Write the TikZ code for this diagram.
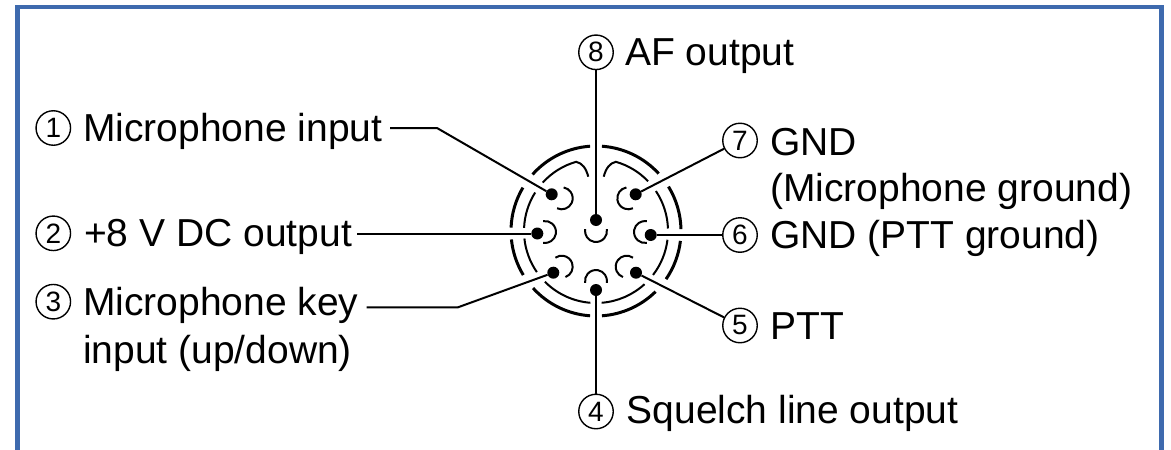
\documentclass[tikz,border=0pt]{standalone}
\usepackage{fontspec}
\setmainfont{Liberation Sans}
\definecolor{frameblue}{RGB}{62,106,174}
\tikzset{
  lbl/.style={font=\fontsize{39}{46}\selectfont, inner sep=0pt, anchor=base west},
  num/.style={circle, draw, line width=1.4pt, minimum size=34.5pt, inner sep=0pt, font=\fontsize{28}{28}\selectfont},
  pindot/.style={circle, fill, inner sep=0pt, minimum size=12pt},
  leader/.style={line width=2pt},
  outerring/.style={line width=3pt},
  innerring/.style={line width=2pt},
  cup/.style={line width=2pt},
}
\begin{document}
\begin{tikzpicture}[x=1pt,y=1pt]
\useasboundingbox (0,0) rectangle (1171,-450);
\fill[white] (0,0) rectangle (1171,-450);
\draw[frameblue, line width=4.5pt, line join=miter] (17.5,-470) -- (17.5,-7.2) -- (1161.3,-7.2) -- (1161.3,-470);

% connector body
\begin{scope}[shift={(596,-231)}]
  \foreach \a/\b in {42.5/86, 94/138.3, 149.3/177.7, 185.7/211.2, 222.2/266, 274/314.5, 325.5/353.3, 361.3/391.5}
    \draw[outerring] (\a:85) arc[start angle=\a, end angle=\b, radius=85];
  \foreach \a/\b in {147.7/177.5, 186/214.8, 224.8/265.5, 274.5/312.4, 322.4/353, 362/393.7}
    \draw[innerring] (\a:72) arc[start angle=\a, end angle=\b, radius=72];
  \draw[innerring] (43.7:72) arc[start angle=43.7, end angle=74, radius=72]
     .. controls (14,68) and (10,63) .. (7.7,54.3);
  \draw[innerring] (-7.7,54.3) .. controls (-10,63) and (-14,68) .. (106:72)
     arc[start angle=106, end angle=137.7, radius=72];
  \coordinate (h8) at (0,0);
  \coordinate (h4) at (0,-50);
  \coordinate (h2) at (-51,-1);
  \coordinate (h6) at (49,-1);
  \coordinate (h1) at (-34.3,32.7);
  \coordinate (h7) at (32.3,32.7);
  \coordinate (h3) at (-34.3,-35.7);
  \coordinate (h5) at (30.7,-35.7);
  \draw[cup] (h8) ++(170:11) arc[start angle=170, end angle=370, radius=11];
  \draw[cup] (h4) ++(-10:11) arc[start angle=-10, end angle=190, radius=11];
  \draw[cup] (h2) ++(-100:11) arc[start angle=-100, end angle=100, radius=11];
  \draw[cup] (h6) ++(80:11) arc[start angle=80, end angle=280, radius=11];
  \draw[cup] (h1) ++(-115:11) arc[start angle=-115, end angle=80, radius=11];
  \draw[cup] (h7) ++(100:11) arc[start angle=100, end angle=295, radius=11];
  \draw[cup] (h3) ++(-70:11) arc[start angle=-70, end angle=125, radius=11];
  \draw[cup] (h5) ++(55:11) arc[start angle=55, end angle=250, radius=11];
\end{scope}

% pin dots
\node[pindot] (d8) at (596,-220) {};
\node[pindot] (d4) at (596,-290) {};
\node[pindot] (d2) at (537.3,-233.5) {};
\node[pindot] (d6) at (650.7,-235) {};
\node[pindot] (d1) at (551.7,-194.3) {};
\node[pindot] (d7) at (635.7,-194.3) {};
\node[pindot] (d3) at (553.3,-272.7) {};
\node[pindot] (d5) at (636,-272.7) {};

% labels
\node[lbl] (t1) at (83,-141.7) {Microphone input};
\node[num] (n1) at (53.3,-128) {1};
\node[lbl] (t2) at (84,-246.7) {+8 V DC output};
\node[num] (n2) at (53.3,-233.3) {2};
\node[lbl] (t3) at (83,-315) {Microphone key};
\node[lbl] (t3b) at (83,-363.3) {input (up/down)};
\node[num] (n3) at (53.3,-301.7) {3};
\node[lbl] (t8) at (625,-65) {AF output};
\node[num] (n8) at (596,-52.3) {8};
\node[lbl] (t7) at (770,-155) {GND};
\node[lbl] (t7b) at (770,-201.5) {(Microphone ground)};
\node[num] (n7) at (740,-140.5) {7};
\node[lbl] (t6) at (770,-248.3) {GND (PTT ground)};
\node[num] (n6) at (740,-235) {6};
\node[lbl] (t5) at (770,-339) {PTT};
\node[num] (n5) at (740,-325.5) {5};
\node[lbl] (t4) at (626.5,-423.3) {Squelch line output};
\node[num] (n4) at (596,-411.5) {4};

% leader lines
\coordinate (e1) at (390,-128);
\coordinate (b1) at (437,-128);
\coordinate (e2) at (356.7,-233.5);
\coordinate (e3) at (366.7,-307.3);
\coordinate (b3) at (458,-307.3);
\draw[leader] (d1) -- (b1) -- (e1);
\draw[leader] (d2) -- (e2);
\draw[leader] (d3) -- (b3) -- (e3);
\draw[leader] (d8) -- (n8);
\draw[leader] (d4) -- (n4);
\draw[leader] (d7) -- (n7);
\draw[leader] (d6) -- (n6);
\draw[leader] (d5) -- (n5);
\end{tikzpicture}
\end{document}
